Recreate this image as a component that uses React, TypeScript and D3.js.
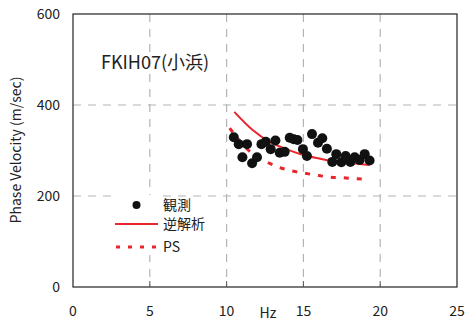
import React, { useEffect, useRef } from 'react';
import * as d3 from 'd3';

// 観測 (observed) dispersion points
const obsHz = [10.47, 10.79, 11.33, 11.03, 11.66, 11.98, 12.27, 12.55, 12.87, 13.18, 13.46, 13.78, 14.11, 14.37, 14.61, 14.97, 15.23, 15.56, 15.95, 16.23, 16.53, 16.88, 17.14, 17.47, 17.75, 18.06, 18.34, 18.66, 18.99, 19.31];
const obsVel = [329, 314, 314, 285, 272, 285, 314, 319, 303, 322, 295, 297, 328, 325, 323, 303, 288, 336, 317, 327, 304, 275, 292, 274, 288, 275, 285, 279, 292, 278];

// 逆解析 (inversion) curve
const invHz = [10.5, 11.7, 12.8, 13.9, 15.0, 16.1, 17.1, 18.2, 19.3];
const invVel = [385, 345, 319, 303, 290, 282, 275, 272, 268];

// PS logging curve
const psHz = [10.2, 11.6, 12.6, 13.5, 14.3, 15.1, 16.0, 16.8, 17.6, 18.5, 19.3];
const psVel = [349, 295, 275, 262, 255, 250, 245, 241, 240, 238, 237];

const xTicks = [0, 5, 10, 15, 20, 25];
const yTicks = [0, 200, 400, 600];

const FONT = '"Noto Sans CJK JP", "Noto Sans", sans-serif';

const App = () => {
  const ref = useRef<SVGSVGElement>(null);

  useEffect(() => {
    const svg = d3.select(ref.current);
    svg.selectAll('*').remove();

    const x = d3.scaleLinear().domain([0, 25]).range([73, 457]);
    const y = d3.scaleLinear().domain([0, 600]).range([287, 14]);

    // grid
    const grid = svg.append('g').attr('stroke', '#b4b4b4').attr('stroke-width', 1.2).attr('stroke-dasharray', '8,7');
    grid.selectAll('.gx').data(xTicks.slice(1, -1)).enter().append('line')
      .attr('x1', (d) => x(d)).attr('x2', (d) => x(d)).attr('y1', y(600)).attr('y2', y(0));
    grid.selectAll('.gy').data(yTicks.slice(1, -1)).enter().append('line')
      .attr('x1', x(0)).attr('x2', x(25)).attr('y1', (d) => y(d)).attr('y2', (d) => y(d));

    // frame
    svg.append('rect')
      .attr('x', x(0)).attr('y', y(600))
      .attr('width', x(25) - x(0)).attr('height', y(0) - y(600))
      .attr('fill', 'none').attr('stroke', '#222').attr('stroke-width', 1.2);

    // small tick marks on the bottom axis
    svg.append('g').selectAll('line').data(xTicks.slice(1, -1)).enter().append('line')
      .attr('x1', (d) => x(d)).attr('x2', (d) => x(d)).attr('y1', y(0)).attr('y2', y(0) - 6)
      .attr('stroke', '#555').attr('stroke-width', 1);

    // tick labels
    svg.append('g').selectAll('text').data(xTicks).enter().append('text')
      .attr('x', (d) => x(d)).attr('y', 316).attr('text-anchor', 'middle')
      .attr('font-family', FONT).attr('font-size', 14).attr('fill', '#222').text((d) => d);
    svg.append('g').selectAll('text').data(yTicks).enter().append('text')
      .attr('x', 60).attr('y', (d) => y(d) + 5).attr('text-anchor', 'end')
      .attr('font-family', FONT).attr('font-size', 14).attr('fill', '#222').text((d) => d);

    svg.append('text').attr('x', 268).attr('y', 318).attr('text-anchor', 'middle')
      .attr('font-family', FONT).attr('font-size', 14).attr('fill', '#222').text('Hz');
    svg.append('text').attr('transform', 'translate(21,150) rotate(-90)').attr('text-anchor', 'middle')
      .attr('font-family', FONT).attr('font-size', 14).attr('fill', '#222').text('Phase Velocity (m/sec)');

    svg.append('text').attr('x', 101).attr('y', 69)
      .attr('font-family', FONT).attr('font-size', 18).attr('fill', '#222').text('FKIH07(小浜)');

    const line = d3.line<[number, number]>().x((d) => x(d[0])).y((d) => y(d[1])).curve(d3.curveMonotoneX);

    svg.append('path').datum(psHz.map((h, i) => [h, psVel[i]] as [number, number]))
      .attr('d', line).attr('fill', 'none').attr('stroke', '#e8262b')
      .attr('stroke-width', 3).attr('stroke-dasharray', '5,8');

    svg.append('path').datum(invHz.map((h, i) => [h, invVel[i]] as [number, number]))
      .attr('d', line).attr('fill', 'none').attr('stroke', '#e8262b').attr('stroke-width', 2);

    svg.append('g').selectAll('circle').data(obsHz).enter().append('circle')
      .attr('cx', (d) => x(d)).attr('cy', (d, i) => y(obsVel[i])).attr('r', 5).attr('fill', '#111');

    // legend
    const lg = svg.append('g').attr('font-family', FONT).attr('font-size', 14).attr('fill', '#222');
    lg.append('rect').attr('x', 112).attr('y', 195).attr('width', 50).attr('height', 60).attr('fill', 'white');
    lg.append('circle').attr('cx', 136.5).attr('cy', 205).attr('r', 4).attr('fill', '#111');
    lg.append('text').attr('x', 163).attr('y', 210).text('観測');
    lg.append('line').attr('x1', 115).attr('x2', 158).attr('y1', 224).attr('y2', 224)
      .attr('stroke', '#e8262b').attr('stroke-width', 2);
    lg.append('text').attr('x', 163).attr('y', 229).text('逆解析');
    lg.append('line').attr('x1', 116).attr('x2', 158).attr('y1', 247).attr('y2', 247)
      .attr('stroke', '#e8262b').attr('stroke-width', 3).attr('stroke-dasharray', '4,8');
    lg.append('text').attr('x', 163).attr('y', 252).text('PS');
  }, []);

  return <svg ref={ref} width={467} height={324} style={{ position: 'absolute', left: 0, top: 0, background: 'white' }}></svg>;
};

export default App;
